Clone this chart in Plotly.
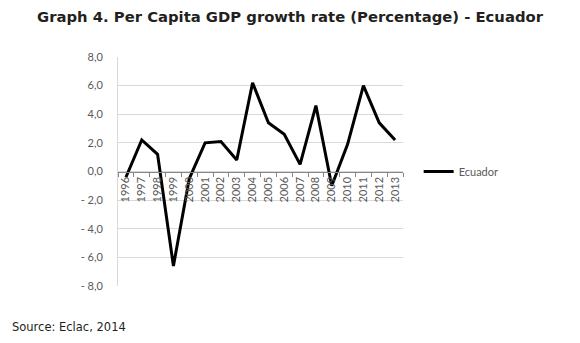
import plotly.graph_objects as go

years = [str(y) for y in range(1996, 2014)]
ecuador = [-0.4, 2.2, 1.2, -6.6, -0.5, 2.0, 2.1, 0.8, 6.2, 3.4, 2.6, 0.5, 4.6, -1.0, 1.9, 6.0, 3.4, 2.2]
y_tickvals = [8, 6, 4, 2, 0, -2, -4, -6, -8]
y_ticktext = ["8,0", "6,0", "4,0", "2,0", "0,0", "- 2,0", "- 4,0", "- 6,0", "- 8,0"]

fig = go.Figure()
fig.add_trace(go.Scatter(x=years, y=ecuador, mode="lines", name="Ecuador",
                         line=dict(color="black", width=3)))

fig.update_layout(
    width=580, height=343,
    margin=dict(l=118, r=177, t=57, b=57),
    paper_bgcolor="white", plot_bgcolor="white",
    title=dict(text="<b>Graph 4. Per Capita GDP growth rate (Percentage) - Ecuador</b>",
               x=0.5, xanchor="center", y=1 - 17 / 343, yanchor="middle",
               font=dict(family="DejaVu Sans", size=14.8, color="#231f20")),
    showlegend=True,
    legend=dict(x=1.055, y=0.5, xanchor="left", yanchor="middle",
                font=dict(family="Lato", size=11, color="#595959"),
                bgcolor="rgba(0,0,0,0)", itemwidth=30, tracegroupgap=0),
    font=dict(family="Lato", size=11, color="#595959"),
)

fig.update_xaxes(type="category", range=[-0.5, 17.5], anchor="free", position=0.5,
                 showgrid=False, showline=True, linecolor="#868686", linewidth=1,
                 ticks="outside", tickson="boundaries", ticklen=4, tickcolor="#868686",
                 tickangle=-90, tickfont=dict(family="Lato", size=11, color="#595959"),
                 zeroline=False)
fig.update_yaxes(range=[-8, 8], tickvals=y_tickvals, ticktext=y_ticktext,
                 showgrid=True, gridcolor="#d9d9d9", gridwidth=1,
                 showline=True, linecolor="#d9d9d9", linewidth=1,
                 zeroline=False, ticks="", ticklabelstandoff=12,
                 tickfont=dict(family="Lato", size=11, color="#595959"))

fig.add_annotation(text="Source: Eclac, 2014", xref="paper", yref="paper",
                   x=-108 / 285, y=-41 / 229, xanchor="left", yanchor="middle", showarrow=False,
                   font=dict(family="DejaVu Sans", size=11.5, color="#231f20"))

fig.write_html("out.html", config={"displayModeBar": False},
               post_script="document.body.style.margin='0';")
